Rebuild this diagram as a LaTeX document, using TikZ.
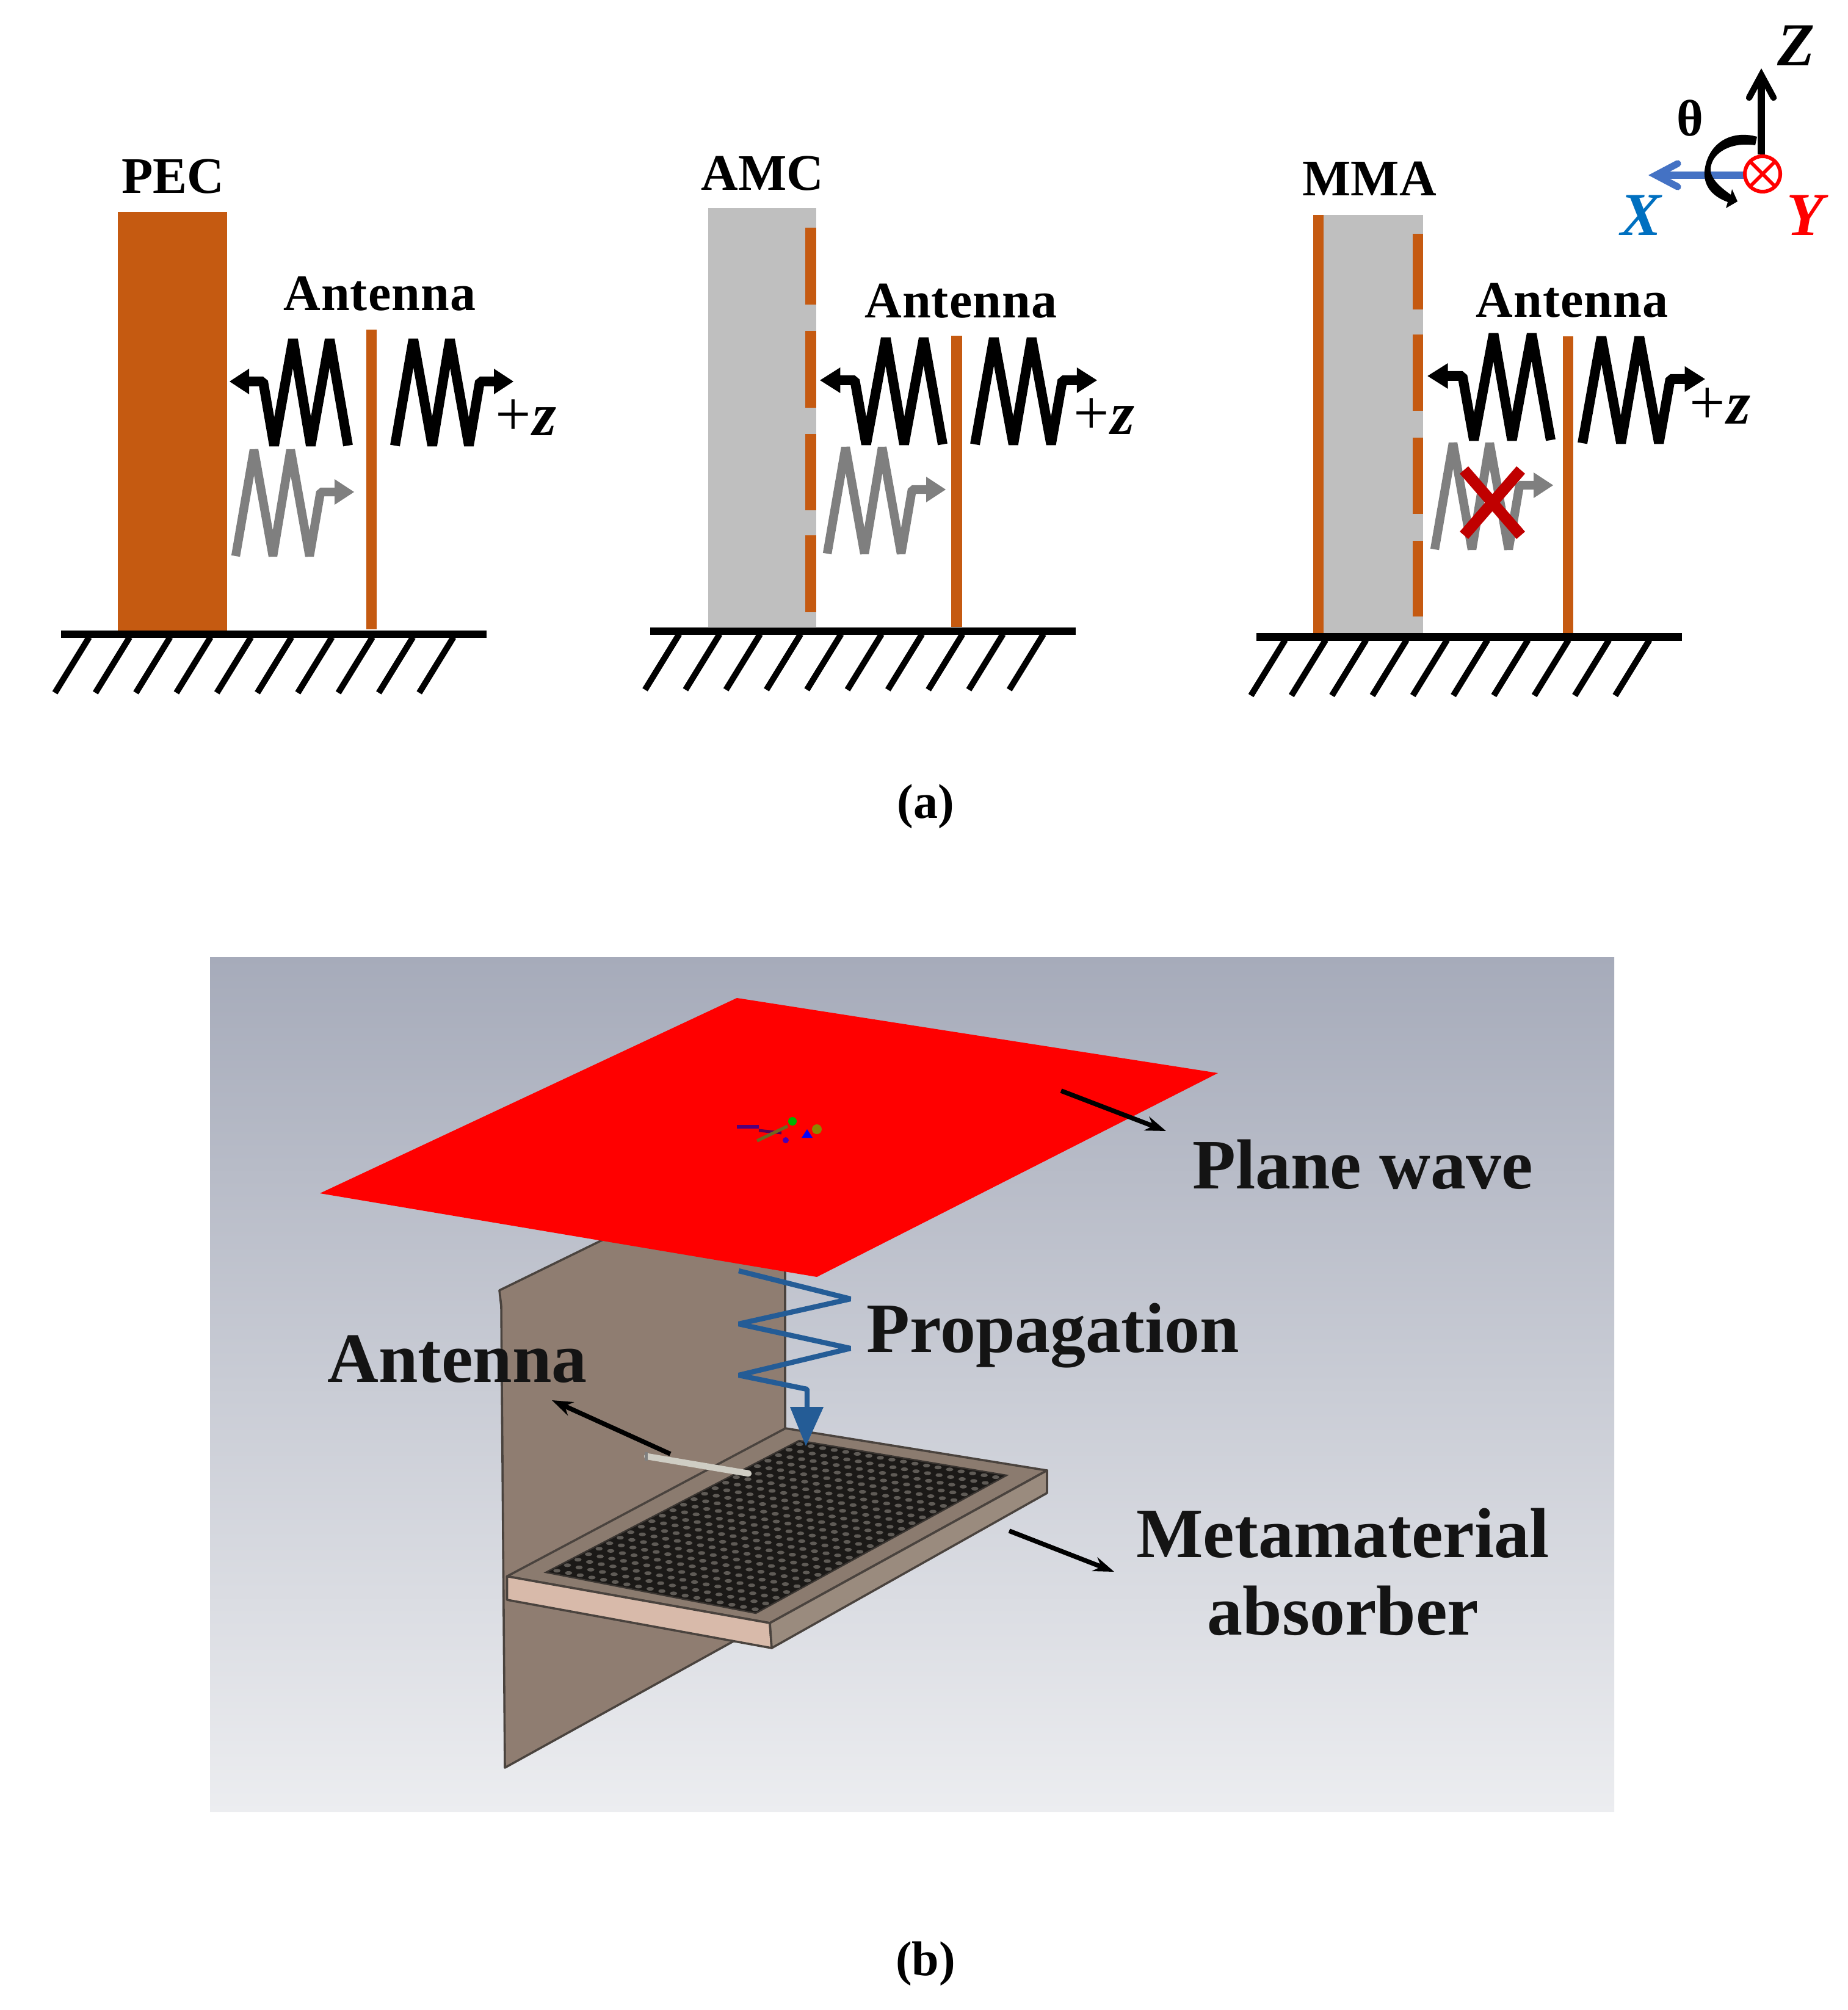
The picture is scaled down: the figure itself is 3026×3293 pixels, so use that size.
\documentclass[tikz,border=0pt]{standalone}
\usepackage{fontspec}
\setmainfont{Liberation Serif}
\usetikzlibrary{arrows.meta}
\definecolor{copper}{HTML}{C55A11}
\definecolor{panelgrey}{HTML}{BFBFBF}
\definecolor{wavegrey}{HTML}{7F7F7F}
\definecolor{crossred}{HTML}{C00000}
\definecolor{xblue}{HTML}{4472C4}
\definecolor{xlabel}{HTML}{0070C0}
\definecolor{wallc}{HTML}{8F7D71}
\definecolor{edgec}{HTML}{4A433E}
\definecolor{topc}{HTML}{8B7B6F}
\definecolor{frontc}{HTML}{D8BAAA}
\definecolor{sidec}{HTML}{9A8B7E}
\definecolor{patchc}{HTML}{1B1917}
\definecolor{dotc}{HTML}{5F5B56}
\definecolor{springc}{HTML}{245C96}
\definecolor{rodc}{HTML}{CFCDC4}
\definecolor{bgtop}{HTML}{A6ABBA}
\definecolor{bgmid}{HTML}{C8CBD7}
\definecolor{bgbot}{HTML}{ECEDF0}
\tikzset{
  lab/.style={inner sep=0pt,anchor=base,font=\bfseries\fontsize{21}{21}\selectfont},
  antlab/.style={inner sep=0pt,anchor=base,font=\bfseries\fontsize{21}{21}\selectfont\addfontfeatures{LetterSpace=1.5}},
  biglab/.style={inner sep=0pt,anchor=base,text=black!92,font=\bfseries\fontsize{29}{29}\selectfont},
  axlab/.style={inner sep=0pt,anchor=base,font=\bfseries\itshape\fontsize{25}{25}\selectfont},
  caplab/.style={inner sep=0pt,anchor=base,font=\bfseries\fontsize{20}{20}\selectfont},
  pluslab/.style={inner sep=0pt,anchor=base,font=\fontsize{26}{26}\selectfont},
  callout/.style={line width=1.9pt,black,-{Stealth[length=8.5pt,width=6pt]}},
  edgeline/.style={draw=edgec,line width=0.9pt,line join=round},
}
\newcommand{\wavy}[5]{%
  \begin{scope}[shift={(#1,#2)},xscale=#3]
    \draw[line width=#5,color=#4,line join=bevel]
      (0,0)--(30,-174)--(61,0)--(90,-174)--(121,0)--(139,-105)--(165,-105);
    \fill[#4] (162,-126)--(194,-105)--(162,-84)--cycle;
  \end{scope}}
\newcommand{\ground}[3]{%
  \draw[line width=3.2pt,black] (#1,#3)--++(697,0);
  \foreach \i in {0,...,9}
    \draw[line width=2.5pt,black] ({#2+66.3*\i},#3+5)--++(-56,91);}
\newcommand{\plusz}{+\kern0.6pt{\fontsize{25}{25}\selectfont\bfseries\itshape z}}
\begin{document}
\begin{tikzpicture}[x=0.25pt,y=-0.25pt]
\useasboundingbox (0,0) rectangle (3026,3293);
\fill[white] (0,0) rectangle (3026,3293);

% ---------- PEC
\fill[copper] (193,347) rectangle (372,1033);
\fill[copper] (600,540) rectangle (617,1031);
\ground{100}{146}{1039}
\wavy{570}{730}{-1}{black}{4pt}
\wavy{647}{730}{1}{black}{4pt}
\wavy{386}{911}{1}{wavegrey}{3.6pt}
\node[lab] (pec) at (283,317) {PEC};
\node[antlab] (ant1) at (622,509) {Antenna};
\node[pluslab] (pz1) at (861,714) {\plusz};

% ---------- AMC
\fill[panelgrey] (1160,341) rectangle (1337,1027);
\foreach \a/\b in {373/499,542/668,711/836,877/1003}
  \fill[copper] (1318.5,\a) rectangle (1337,\b);
\fill[copper] (1557.5,550) rectangle (1575.5,1027);
\ground{1065}{1112.5}{1034}
\wavy{1544}{728}{-1.035}{black}{4pt}
\wavy{1597}{728}{1.03}{black}{4pt}
\wavy{1355}{907}{1}{wavegrey}{3.6pt}
\node[lab] (amc) at (1249,312) {AMC};
\node[antlab] (ant2) at (1574,521) {Antenna};
\node[pluslab] (pz2) at (1808,712) {\plusz};

% ---------- MMA
\fill[panelgrey] (2150.5,352) rectangle (2330.5,1038);
\fill[copper] (2150.5,352) rectangle (2168,1038);
\foreach \a/\b in {383/507,548/673,717/842,886/1010}
  \fill[copper] (2314,\a) rectangle (2330.5,\b);
\fill[copper] (2560,551) rectangle (2576.5,1038);
\ground{2058}{2105}{1043.5}
\wavy{2540}{721}{-1.04}{black}{4pt}
\wavy{2592}{726}{1.035}{black}{4pt}
\wavy{2350}{900}{1}{wavegrey}{3.6pt}
\draw[crossred,line width=4.6pt] (2398,770)--(2491,877) (2491,770)--(2398,877);
\node[lab] (mma) at (2243,321) {MMA};
\node[antlab] (ant3) at (2575,520) {Antenna};
\node[pluslab] (pz3) at (2817,695) {\plusz};

% ---------- axes
\draw[black,line width=2.8pt] (2885,253)--(2885,125);
\draw[black,line width=2.6pt,line cap=round,line join=miter] (2865,160)--(2885,123)--(2905,160);
\draw[xblue,line width=2.8pt] (2857,287)--(2720,287);
\draw[xblue,line width=2.8pt,line join=miter,line cap=round] (2748,268)--(2712,287)--(2748,306);
\draw[red,line width=1.5pt] (2887,285) circle (29);
\draw[red,line width=1.4pt] (2867,265)--(2907,305) (2907,265)--(2867,305);
\fill[black] (2878,224) .. controls (2835,212) and (2797,235) .. (2792,280)
  .. controls (2790,305) and (2805,322) .. (2830,331) -- (2827,341) -- (2846,330) -- (2837,310) -- (2835,319)
  .. controls (2815,305) and (2800,290) .. (2802,275)
  .. controls (2805,250) and (2835,232) .. (2875,238) -- cycle;
\node[lab] (theta) at (2768,223) {θ};
\node[axlab] (axz) at (2942,108) {Z};
\node[axlab,text=xlabel] (axx) at (2688,386) {X};
\node[axlab,text=red] (axy) at (2957,386) {Y};

\node[caplab] (capa) at (1516,1340) {(a)};

% ---------- panel (b): background
\path[shade,top color=bgtop,middle color=bgmid,bottom color=bgbot] (344,1568) rectangle (2644,2968);

% wall
\filldraw[fill=wallc,edgeline] (818,2114)--(1000,2025)--(1286,2025)--(1286,2642)--(827,2896)--(821,2140)--cycle;

% absorber slab
\filldraw[fill=topc,edgeline] (830.5,2582.5)--(1286.5,2340)--(1715,2409)--(1261,2659)--cycle;
\filldraw[fill=frontc,edgeline] (830.5,2582.5)--(1261,2659)--(1264,2700)--(830.5,2621)--cycle;
\filldraw[fill=sidec,edgeline] (1261,2659)--(1715,2409)--(1715,2446)--(1264,2700)--cycle;
\filldraw[fill=patchc,draw=edgec!80!black,line width=0.6pt] (894,2576)--(1238,2643)--(1649,2417)--(1309,2360)--cycle;
\foreach \s in {0,...,17} \foreach \t in {0,...,23} {
  \pgfmathsetmacro{\ss}{(\s+0.5)/18}
  \pgfmathsetmacro{\tt}{(\t+0.5)/24}
  \pgfmathsetmacro{\px}{(1-\ss)*(1-\tt)*894+\ss*(1-\tt)*1238+\ss*\tt*1649+(1-\ss)*\tt*1309}
  \pgfmathsetmacro{\py}{(1-\ss)*(1-\tt)*2576+\ss*(1-\tt)*2643+\ss*\tt*2417+(1-\ss)*\tt*2360}
  \fill[dotc] (\px,\py) ellipse [x radius=6,y radius=3];
}

% antenna rod
\draw[rodc,line width=2.6pt,line cap=round] (1060,2386)--(1226,2414);
\fill[wavegrey] (1056,2379) rectangle (1061,2393);

% red plane wave
\fill[red] (1207,1635)--(1995,1758)--(1338,2092)--(524,1955)--cycle;
\fill[blue!60!red!80!black] (1207,1843) rectangle (1243,1849);
\draw[blue!50!red!70!black,line width=1.2pt] (1243,1852)--(1280,1856);
\fill[green!70!black] (1298,1837) circle (7);
\fill[blue] (1322,1850)--(1313,1864)--(1331,1864)--cycle;
\fill[olive] (1338,1850) circle (8);
\draw[olive!70!black,line width=1.3pt] (1240,1869)--(1290,1845);
\fill[blue!70!red] (1287,1868) circle (5);

% propagation spring
\draw[springc,line width=2.1pt,line join=bevel] (1210,2082)--(1393,2128)--(1210,2169)--(1393,2209)--(1210,2253)--(1322,2276)--(1322,2310);
\fill[springc] (1294,2305)--(1349,2305)--(1320,2369)--cycle;

% callout arrows and labels
\coordinate (planetail) at (1738,1787);
\coordinate (planehead) at (1910,1853);
\coordinate (metatail) at (1653,2508);
\coordinate (metahead) at (1825,2575);
\coordinate (anttail) at (1098,2382);
\coordinate (anthead) at (904,2294);
\draw[callout] (planetail)--(planehead);
\draw[callout] (metatail)--(metahead);
\draw[callout] (anttail)--(anthead);
\node[biglab] (plane) at (2232,1947) {Plane wave};
\node[biglab] (prop) at (1725,2215) {Propagation};
\node[biglab] (meta1) at (2199.5,2551) {Metamaterial};
\node[biglab] (meta2) at (2200,2678) {absorber};
\node[biglab] (antb) at (749,2264) {Antenna};

\node[caplab] (capb) at (1516,3236) {(b)};
\end{tikzpicture}
\end{document}
